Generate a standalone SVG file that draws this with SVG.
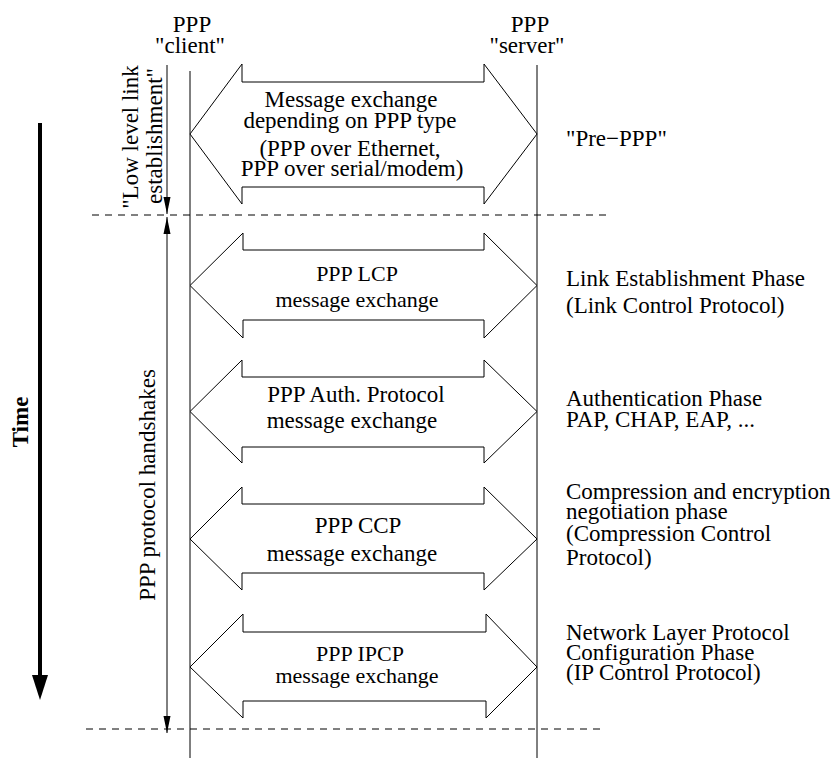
<svg xmlns="http://www.w3.org/2000/svg" width="834" height="758" viewBox="0 0 834 758">
<style>
.t{font-family:"Liberation Serif","Times New Roman",serif;font-size:23px;fill:#000}
.s{font-size:22px}
.m{text-anchor:middle}
.b{font-weight:bold}
.life{stroke:#000;stroke-width:1;fill:none}
.dash{stroke:#000;stroke-width:1;stroke-dasharray:7 6;fill:none}
.box{fill:#fff;stroke:#000;stroke-width:1}
.conn{stroke:#000;stroke-width:1;fill:none}
</style>
<defs>
<marker id="ah" markerUnits="userSpaceOnUse" markerWidth="18" markerHeight="8" viewBox="0 0 18 8" refX="17" refY="4" orient="auto-start-reverse">
<path d="M0,0.5 L17,4 L0,7.5 Z" fill="#000"/>
</marker>
</defs>
<rect width="834" height="758" fill="#fff"/>

<g id="client">
<line class="life" x1="190" y1="71" x2="190" y2="758"/>
<text class="t m" x="192" y="32">PPP</text>
<text class="t m" x="190" y="53">"client"</text>
</g>
<g id="server">
<line class="life" x1="537" y1="65" x2="537" y2="758"/>
<text class="t m" x="530" y="32">PPP</text>
<text class="t m" x="527" y="53">"server"</text>
</g>

<g id="phase-lines">
<line class="dash" x1="92" y1="215" x2="608" y2="215"/>
<line class="dash" x1="86" y1="729" x2="603" y2="729"/>
</g>

<g id="connectors">
<line class="conn" x1="167" y1="65" x2="167" y2="214" marker-end="url(#ah)"/>
<line class="conn" x1="167" y1="217" x2="167" y2="733" marker-start="url(#ah)" marker-end="url(#ah)"/>
<line x1="40" y1="123" x2="40" y2="678" stroke="#000" stroke-width="4"/>
<polygon points="32,675 48,675 40,700" fill="#000"/>
</g>

<g id="label-time">
<text class="t b m" transform="translate(28,422) rotate(-90)">Time</text>
</g>
<g id="label-lowlevel">
<text class="t m" transform="translate(138,137) rotate(-90)">"Low level link</text>
<text class="t m" transform="translate(162,136) rotate(-90)">establishment"</text>
</g>
<g id="label-handshakes">
<text class="t m" transform="translate(155,485) rotate(-90)">PPP protocol handshakes</text>
</g>

<g id="pre-ppp">
<polygon class="box" points="190,134 242,64 242,82 484,82 484,64 537,134 484,204 484,187 242,187 242,204"/>
<text class="t m" x="351" y="107">Message exchange</text>
<text class="t m" x="350" y="128">depending on PPP type</text>
<text class="t m" x="350" y="156">(PPP over Ethernet,</text>
<text class="t m" x="352" y="176">PPP over serial/modem)</text>
<text class="t" x="566" y="146">"Pre−PPP"</text>
</g>

<g id="lcp">
<polygon class="box" points="190,285.5 243,233 243,250 484,250 484,233 537,285.5 484,338 484,320 243,320 243,338"/>
<text class="t s m" x="357" y="280.5">PPP LCP</text>
<text class="t s m" x="357" y="307">message exchange</text>
<text class="t" x="566" y="286">Link Establishment Phase</text>
<text class="t" x="566" y="313">(Link Control Protocol)</text>
</g>

<g id="auth">
<polygon class="box" points="190,411.5 242,360 242,377 484,377 484,360 537,411.5 484,463 484,447 242,447 242,463"/>
<text class="t m" x="356" y="401.5">PPP Auth. Protocol</text>
<text class="t m" x="352" y="428">message exchange</text>
<text class="t" x="566" y="406">Authentication Phase</text>
<text class="t" x="566" y="427">PAP, CHAP, EAP, ...</text>
</g>

<g id="ccp">
<polygon class="box" points="190,539 242,487 242,504 484,504 484,487 537,539 484,590 484,573 242,573 242,590"/>
<text class="t m" x="358" y="533">PPP CCP</text>
<text class="t m" x="352" y="561">message exchange</text>
<text class="t" x="566" y="499">Compression and encryption</text>
<text class="t" x="566" y="519">negotiation phase</text>
<text class="t" x="566" y="541">(Compression Control</text>
<text class="t" x="566" y="565">Protocol)</text>
</g>

<g id="ipcp">
<polygon class="box" points="190,667 243,614 243,632 486,632 486,614 537,667 486,718 486,701 243,701 243,718"/>
<text class="t s m" x="360" y="661">PPP IPCP</text>
<text class="t s m" x="357" y="683">message exchange</text>
<text class="t" x="566" y="640">Network Layer Protocol</text>
<text class="t" x="566" y="660">Configuration Phase</text>
<text class="t" x="566" y="680">(IP Control Protocol)</text>
</g>
</svg>
